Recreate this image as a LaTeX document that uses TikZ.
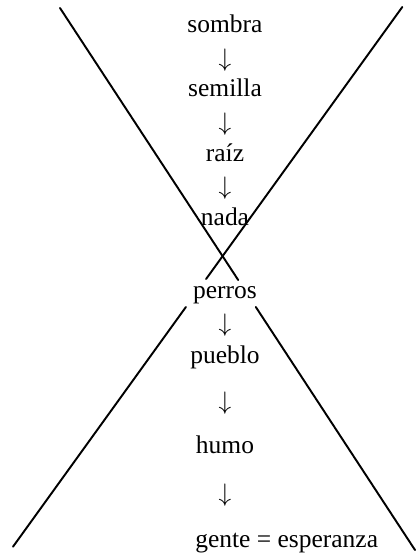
\documentclass[tikz,border=0pt]{standalone}
\usepackage{fontspec}
\setmainfont{Liberation Serif}
\usetikzlibrary{positioning,calc}

\tikzset{
  word/.style={font=\fontsize{14.5}{17}\selectfont, anchor=base, inner sep=1pt,
    text height=1.5ex, text depth=0.25ex},
  down/.style={font=\fontsize{14.5}{17}\selectfont, inner sep=0pt},
  cross/.style={line width=1.1pt, line cap=round}
}

\begin{document}
\begin{tikzpicture}
\useasboundingbox (0,0) rectangle (8.34,-11.12);

% the big X, broken at perros
\draw[cross] (1.2,-0.16) -- (4.764,-5.6);
\draw[cross] (5.116,-6.14) -- (8.3,-11.0);
\draw[cross] (8.046,-0.14) -- (4.122,-5.58);
\draw[cross] (3.718,-6.14) -- (0.26,-10.934);

% upper chain
\node[word] (sombra) at (4.5,-0.66) {sombra};
\node[word] (semilla) at (4.5,-1.94) {semilla};
\node[word] (raiz) at (4.5,-3.22) {raíz};
\node[word] (nada) at (4.5,-4.5) {nada};

% lower chain
\node[word] (perros) at (4.5,-5.96) {perros};
\node[word] (pueblo) at (4.5,-7.26) {pueblo};
\node[word] (humo) at (4.5,-9.06) {humo};
\node[word, anchor=base west, inner xsep=0pt] (gente) at (3.9,-10.94) {gente = esperanza};

% arrows
\foreach \a/\b in {sombra/semilla, semilla/raiz, raiz/nada, perros/pueblo, pueblo/humo}
  \path (\a) -- node[down] {$\downarrow$} (\b);
\path (humo) -- node[down] {$\downarrow$} (humo |- gente.north);
\end{tikzpicture}
\end{document}
